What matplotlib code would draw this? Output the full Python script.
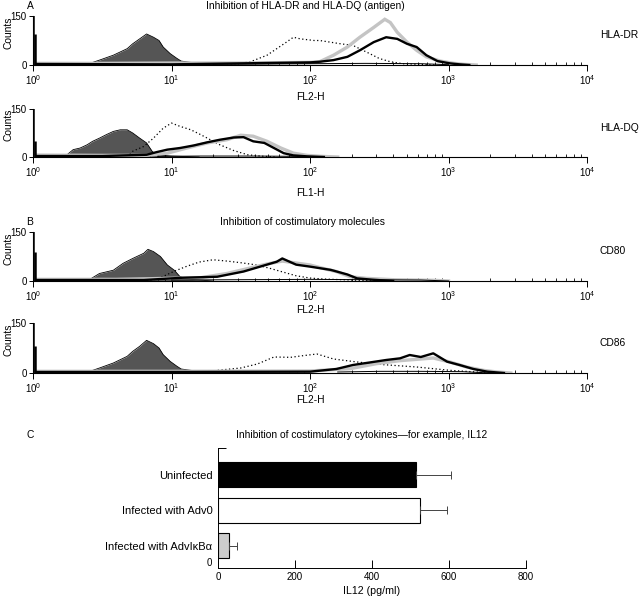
import matplotlib
matplotlib.use('Agg')
import matplotlib.pyplot as plt
import numpy as np

plt.rcParams['font.family'] = ['Liberation Sans', 'DejaVu Sans']

# --- histogram data: positions in log10(fluorescence), values in counts ---
# panel A, HLA-DR
dr_fill_pos = [0.03, 0.38, 0.41, 0.48, 0.58, 0.63, 0.68, 0.72, 0.77, 0.82, 0.87, 0.91, 0.94, 0.99, 1.04, 1.07, 1.14, 1.21, 1.3]
dr_fill = [3, 3, 5, 15, 30, 40, 50, 65, 80, 95, 85, 75, 55, 35, 20, 12, 8, 5, 2]
dr_dot_pos = [1.4, 1.45, 1.57, 1.69, 1.76, 1.83, 1.88, 1.93, 2.03, 2.07, 2.22, 2.31, 2.43, 2.5, 2.58, 2.67, 2.8, 2.9]
dr_dot = [0, 2, 10, 30, 50, 70, 85, 80, 75, 75, 65, 60, 35, 20, 10, 4, 2, 0]
dr_gray_pos = [0.03, 0.5, 1.0, 1.5, 2.0, 2.07, 2.17, 2.27, 2.36, 2.46, 2.54, 2.58, 2.63, 2.7, 2.77, 2.84, 2.94, 3.04, 3.11, 3.2]
dr_gray = [5, 5, 6, 6, 8, 10, 30, 55, 85, 115, 140, 130, 100, 70, 45, 25, 12, 5, 2, 0]
dr_black_pos = [0.03, 1.0, 2.0, 2.07, 2.17, 2.27, 2.36, 2.46, 2.55, 2.63, 2.7, 2.77, 2.84, 2.92, 3.01, 3.08, 3.15]
dr_black = [3, 2, 8, 10, 15, 25, 45, 70, 85, 80, 65, 55, 30, 12, 5, 2, 0]
dr_thin_pos = [1.3, 1.6, 2.0, 2.4, 2.8, 3.0]
dr_thin = [2, 3, 4, 5, 4, 1]
dr_spike = [160, 95]

# panel A, HLA-DQ
dq_fill_pos = [0.03, 0.2, 0.24, 0.29, 0.34, 0.39, 0.43, 0.48, 0.53, 0.58, 0.63, 0.68, 0.72, 0.77, 0.82, 0.86, 0.89, 1.0, 1.2]
dq_fill = [3, 3, 5, 23, 28, 38, 49, 59, 70, 80, 85, 85, 75, 59, 44, 18, 7, 3, 0]
dq_dot_pos = [0.68, 0.72, 0.8, 0.87, 0.94, 1.0, 1.06, 1.14, 1.21, 1.28, 1.35, 1.45, 1.55, 1.64, 1.75]
dq_dot = [0, 18, 33, 59, 90, 106, 96, 85, 70, 54, 38, 20, 7, 3, 0]
dq_gray_pos = [0.03, 0.5, 0.82, 0.97, 1.11, 1.26, 1.4, 1.5, 1.59, 1.69, 1.79, 1.88, 1.98, 2.08, 2.2]
dq_gray = [6, 5, 5, 12, 28, 44, 54, 68, 65, 49, 28, 12, 5, 2, 0]
dq_black_pos = [0.03, 0.5, 0.82, 0.89, 0.97, 1.06, 1.16, 1.26, 1.35, 1.45, 1.52, 1.59, 1.67, 1.74, 1.81, 1.88, 1.98, 2.1]
dq_black = [3, 3, 7, 15, 23, 28, 36, 46, 54, 61, 62, 49, 44, 28, 12, 5, 2, 0]
dq_thin_pos = [0.9, 1.2, 1.6, 1.9, 2.1]
dq_thin = [2, 3, 3, 2, 0]
dq_spike = [160, 50]

# panel B, CD80
c80_fill_pos = [0.03, 0.38, 0.41, 0.48, 0.58, 0.65, 0.72, 0.8, 0.83, 0.87, 0.92, 0.97, 1.02, 1.06, 1.11, 1.2, 1.3]
c80_fill = [3, 3, 5, 23, 33, 54, 69, 85, 97, 90, 75, 49, 33, 14, 6, 3, 0]
c80_dot_pos = [0.85, 0.92, 1.02, 1.11, 1.2, 1.3, 1.4, 1.5, 1.6, 1.7, 1.8, 1.9, 2.0, 2.1, 2.3, 2.5]
c80_dot = [0, 10, 30, 45, 58, 65, 61, 56, 50, 40, 28, 16, 9, 6, 3, 0]
c80_gray_pos = [0.03, 0.6, 1.21, 1.4, 1.57, 1.69, 1.8, 1.9, 2.0, 2.1, 2.19, 2.29, 2.41, 2.6, 2.9, 3.0]
c80_gray = [5, 5, 10, 23, 40, 52, 61, 55, 49, 38, 29, 13, 8, 4, 2, 0]
c80_black_pos = [0.03, 0.8, 1.08, 1.33, 1.52, 1.64, 1.76, 1.8, 1.9, 2.0, 2.15, 2.27, 2.34, 2.45, 2.6]
c80_black = [3, 3, 10, 13, 29, 44, 59, 69, 50, 44, 34, 20, 8, 4, 0]
c80_thin_pos = [1.0, 1.5, 2.0, 2.4, 2.8, 3.0]
c80_thin = [3, 4, 5, 4, 3, 0]
c80_spike = [160, 88]

# panel B, CD86
c86_fill_pos = [0.03, 0.38, 0.41, 0.48, 0.58, 0.63, 0.68, 0.72, 0.77, 0.82, 0.87, 0.91, 0.94, 0.99, 1.04, 1.07, 1.14, 1.21, 1.3]
c86_fill = [3, 3, 5, 15, 30, 40, 50, 65, 80, 98, 88, 75, 55, 35, 20, 12, 8, 5, 2]
c86_dot_pos = [1.2, 1.33, 1.5, 1.62, 1.74, 1.86, 1.95, 2.05, 2.17, 2.34, 2.53, 2.77, 3.01, 3.2, 3.35]
c86_dot = [0, 8, 15, 27, 48, 47, 52, 57, 42, 33, 25, 18, 8, 3, 0]
c86_gray_pos = [0.03, 1.0, 2.0, 2.29, 2.48, 2.65, 2.77, 2.89, 3.01, 3.13, 3.25, 3.35, 3.45]
c86_gray = [5, 5, 6, 13, 28, 37, 41, 45, 33, 18, 8, 3, 0]
c86_black_pos = [0.03, 1.0, 2.0, 2.19, 2.31, 2.55, 2.65, 2.72, 2.8, 2.89, 2.99, 3.08, 3.18, 3.28, 3.4]
c86_black = [3, 3, 4, 12, 24, 39, 44, 54, 48, 59, 34, 24, 12, 4, 0]
c86_thin_pos = [2.2, 2.5, 2.8, 3.1, 3.3]
c86_thin = [3, 5, 5, 4, 0]
c86_spike = [160, 80]

# --- bar chart data (panel C) ---
groups = ['Uninfected', 'Infected with Adv0', 'Infected with AdvI\u03baB\u03b1']
il12 = [514, 525, 28]
il12_err = [91, 70, 21]
bar_colors = ['black', 'white', '#cccccc']

FS = 7.4

fig = plt.figure(figsize=(6.4, 5.96), dpi=100)
W, H = 640.0, 596.0


def ax_at(x0, y0, x1, y1):
    # pixel box -> figure axes
    return fig.add_axes([x0 / W, 1 - y1 / H, (x1 - x0) / W, (y1 - y0) / H])


def histo(ax, d):
    (fp, fv, dp, dv, gp, gv, bp, bv, tp, tv, spike) = d
    x = lambda p: 10 ** np.array(p)
    ax.fill_between(x(fp), fv, color='#555555', lw=0)
    ax.plot(x(fp), fv, color='black', lw=0.6)
    ax.plot(x(dp), dv, color='black', lw=0.9, ls=(0, (1, 2)))
    ax.plot(x(gp), gv, color='#c4c4c4', lw=2.4, solid_joinstyle='miter')
    ax.plot(x(bp), bv, color='black', lw=1.7)
    ax.plot(x(tp), tv, color='black', lw=0.7)
    ax.vlines(x([0.0, 0.014]), 0, spike, color='black', lw=1.8)
    ax.set_xscale('log')
    ax.set_xlim(1, 1e4)
    ax.set_ylim(0, 150)
    ax.set_yticks([0, 150])
    ax.spines['top'].set_visible(False)
    ax.spines['right'].set_visible(False)
    ax.spines['left'].set_linewidth(0.8)
    ax.spines['bottom'].set_linewidth(0.8)
    ax.tick_params(axis='x', which='major', direction='out', length=4, width=0.7, labelsize=7, pad=2)
    ax.tick_params(axis='x', which='minor', direction='in', length=2.5, width=0.6)
    ax.tick_params(axis='y', direction='out', length=3, width=0.7, labelsize=7, pad=1.5)


panels = [
    ((33, 16, 587, 65), (dr_fill_pos, dr_fill, dr_dot_pos, dr_dot, dr_gray_pos, dr_gray, dr_black_pos, dr_black, dr_thin_pos, dr_thin, dr_spike), 'HLA-DR', 'FL2-H', 97),
    ((33, 109, 587, 157), (dq_fill_pos, dq_fill, dq_dot_pos, dq_dot, dq_gray_pos, dq_gray, dq_black_pos, dq_black, dq_thin_pos, dq_thin, dq_spike), 'HLA-DQ', 'FL1-H', 193),
    ((33, 232, 587, 281), (c80_fill_pos, c80_fill, c80_dot_pos, c80_dot, c80_gray_pos, c80_gray, c80_black_pos, c80_black, c80_thin_pos, c80_thin, c80_spike), 'CD80', 'FL2-H', 310),
    ((33, 323, 587, 373), (c86_fill_pos, c86_fill, c86_dot_pos, c86_dot, c86_gray_pos, c86_gray, c86_black_pos, c86_black, c86_thin_pos, c86_thin, c86_spike), 'CD86', 'FL2-H', 400),
]

for box, data, name, xl, xly in panels:
    ax = ax_at(*box)
    histo(ax, data)
    fig.text(600 / W, 1 - ((box[1] + box[3]) / 2 - 5) / H, name, fontsize=FS, va='center', ha='left')
    fig.text(310 / W, 1 - xly / H, xl, fontsize=FS, va='center', ha='center')
    fig.text(8 / W, 1 - ((box[1] + box[3]) / 2 - 8) / H, 'Counts', fontsize=FS, rotation=90, va='center', ha='center')

fig.text(30 / W, 1 - 6 / H, 'A', fontsize=FS, va='center', ha='center')
fig.text(305 / W, 1 - 6 / H, 'Inhibition of HLA-DR and HLA-DQ (antigen)', fontsize=FS, va='center', ha='center')
fig.text(30 / W, 1 - 222 / H, 'B', fontsize=FS, va='center', ha='center')
fig.text(302 / W, 1 - 222 / H, 'Inhibition of costimulatory molecules', fontsize=FS, va='center', ha='center')
fig.text(30 / W, 1 - 435 / H, 'C', fontsize=FS, va='center', ha='center')
fig.text(362 / W, 1 - 435 / H, 'Inhibition of costimulatory cytokines\u2014for example, IL12', fontsize=FS, va='center', ha='center')

# --- panel C: bars ---
axc = ax_at(218, 448, 526, 568)
ypos = np.arange(len(groups))
axc.barh(ypos, il12, height=0.7, color=bar_colors, edgecolor='black', linewidth=0.8)
axc.errorbar(il12, ypos, xerr=[np.zeros(len(il12)), il12_err], fmt='none',
             ecolor='#444444', elinewidth=0.7, capsize=3, capthick=0.7)
axc.set_xlim(0, 800)
axc.set_ylim(2.63, -0.75)
axc.set_xticks([0, 200, 400, 600, 800])
axc.set_yticks(list(ypos) + [2.63, -0.75])
axc.set_yticklabels(groups + ['0', ''])
ticks = axc.yaxis.get_major_ticks()
for t in ticks[:3]:
    t.tick1line.set_visible(False)
    t.label1.set_fontsize(8)
ticks[3].tick1line.set_visible(False)
ticks[3].label1.set_fontsize(7)
ticks[3].label1.set_verticalalignment('bottom')
axc.tick_params(axis='y', direction='in', length=6, width=0.7, pad=4)
axc.tick_params(axis='x', direction='in', length=6, width=0.7, labelsize=7, pad=3)
axc.spines['top'].set_visible(False)
axc.spines['right'].set_visible(False)
axc.spines['left'].set_linewidth(0.7)
axc.spines['bottom'].set_linewidth(0.7)
axc.set_xlabel('IL12 (pg/ml)', fontsize=FS + 0.3, labelpad=3)

fig.savefig('out.png', dpi=100)
